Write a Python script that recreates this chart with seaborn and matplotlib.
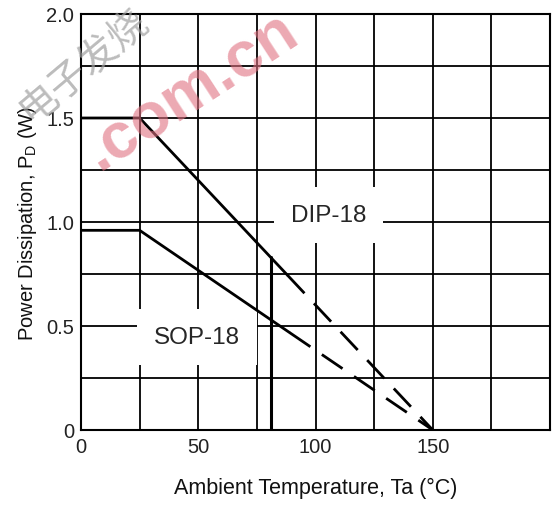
import seaborn as sns
import matplotlib.pyplot as plt
import numpy as np
import pandas as pd

sns.set_style("white")
plt.rcParams["font.family"] = ["Liberation Sans", "Noto Sans CJK SC", "DejaVu Sans"]

# derating curves: (temperature in C, power in W)
dip_solid_t = [0, 25, 88]
dip_solid_p = [1.5, 1.5, 0.745]
dip_dash_t = [88, 150]
dip_dash_p = [0.745, 0.0]

sop_solid_t = [0, 25, 89]
sop_solid_p = [0.96, 0.96, 0.468]
sop_dash_t = [89, 150]
sop_dash_p = [0.468, 0.0]

# vertical marker line
mark_t = [81, 81]
mark_p = [0.0, 0.83]

x_ticks = [0, 25, 50, 75, 100, 125, 150, 175, 200]
x_labels = ["0", "", "50", "", "100", "", "150", "", ""]
y_ticks = [0, 0.25, 0.5, 0.75, 1.0, 1.25, 1.5, 1.75, 2.0]
y_labels = ["0", "", "0.5", "", "1.0", "", "1.5", "", "2.0"]

fig = plt.figure(figsize=(5.54, 5.06), dpi=100)
ax = fig.add_axes([81 / 554, 1 - 431 / 506, 469 / 554, 416 / 506])

kw = dict(color="black", linewidth=2.0, ax=ax, zorder=4, estimator=None, sort=False)
sns.lineplot(x=dip_solid_t, y=dip_solid_p, **kw)
sns.lineplot(x=dip_dash_t, y=dip_dash_p, **kw)
sns.lineplot(x=sop_solid_t, y=sop_solid_p, **kw)
sns.lineplot(x=sop_dash_t, y=sop_dash_p, **kw)
sns.lineplot(x=mark_t, y=mark_p, color="black", linewidth=2.2, ax=ax, zorder=4,
             estimator=None, sort=False)
ax.lines[1].set_dashes([9, 5])
ax.lines[3].set_dashes([9, 5])

ax.set_xlim(0, 200)
ax.set_ylim(0, 2.0)
ax.set_xticks(x_ticks)
ax.set_xticklabels(x_labels)
ax.set_yticks(y_ticks)
ax.set_yticklabels(y_labels)
ax.tick_params(length=0, labelsize=14.5, colors="#222222", pad=5)
ax.grid(True, color="black", linewidth=1.3)
ax.set_axisbelow(True)
for s in ax.spines.values():
    s.set_color("black")
    s.set_linewidth(1.5)

ax.set_xlabel("Ambient Temperature, Ta (°C)", fontsize=15.5, labelpad=15, color="#111111")
ax.set_ylabel(r"Power Dissipation, P$_\mathregular{D}$ (W)", fontsize=14.5, labelpad=5, color="#111111")

box = dict(facecolor="white", edgecolor="none", boxstyle="square,pad=0.7")
ax.text(105.5, 1.035, "DIP-18", fontsize=17.5, ha="center", va="center", bbox=box, zorder=3)
ax.text(49.5, 0.445, "SOP-18", fontsize=17.5, ha="center", va="center", bbox=box, zorder=3)

# watermark
fig.text(0.15, 0.87, "电子发烧", fontsize=28, color="#a0a0a0", alpha=0.7,
         rotation=40, ha="center", va="center", family=["Noto Sans CJK SC"])
fig.text(0.345, 0.82, ".com.cn", fontsize=46, fontweight="bold", color="#e07080", alpha=0.6,
         rotation=33, ha="center", va="center")

fig.savefig("out.png", dpi=100)
